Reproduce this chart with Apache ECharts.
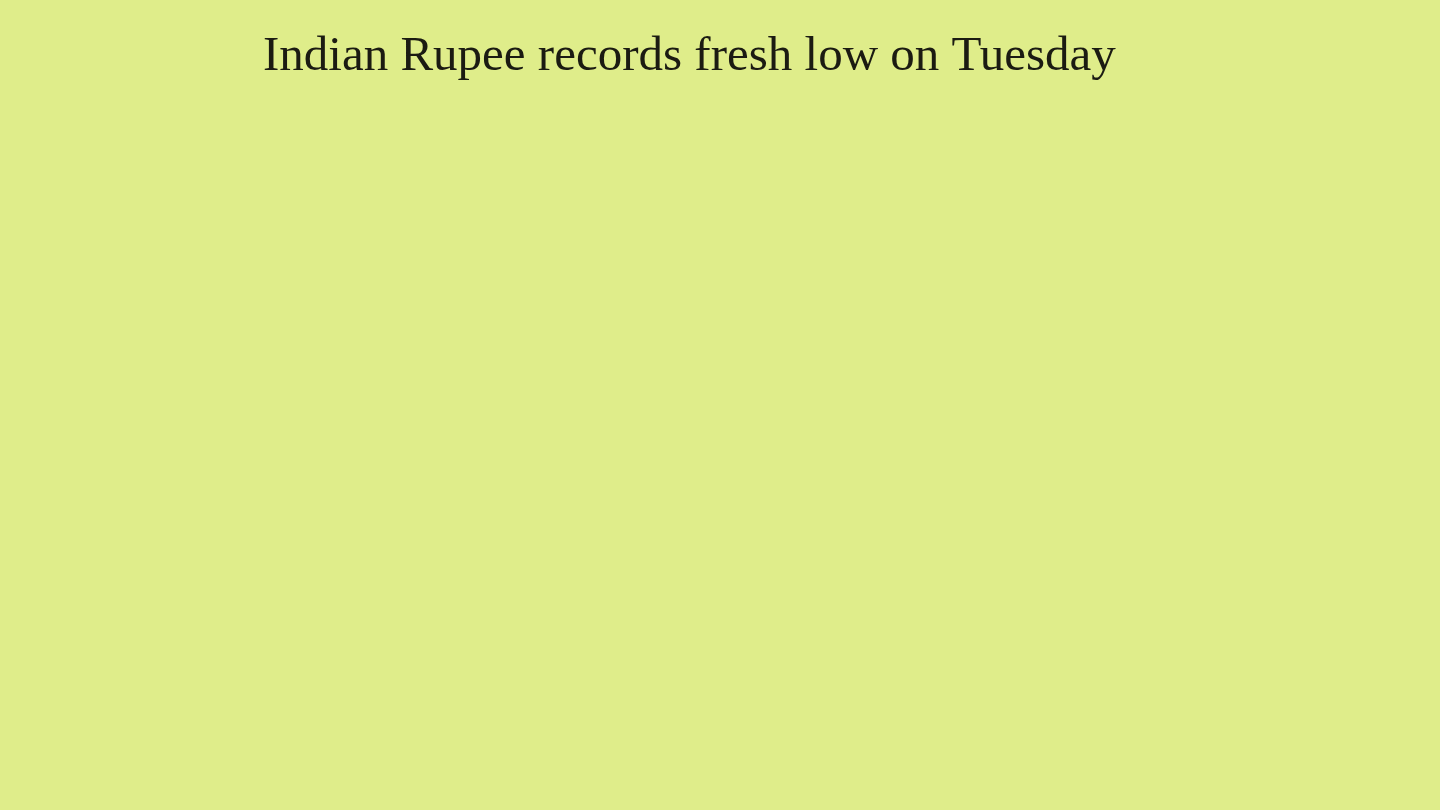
<!DOCTYPE html>
<html>
<head>
<meta charset="utf-8">
<script src="https://cdn.jsdelivr.net/npm/echarts@6/dist/echarts.min.js"></script>
<style>
html,body{margin:0;padding:0;background:#dfed8a;}
#chart{width:1440px;height:810px;}
</style>
</head>
<body>
<div id="chart"></div>
<script>
// The reference frame shows only the title; no data marks are drawn yet.
const categories = [];
const rupeeValues = [];
const titleText = 'Indian Rupee records fresh low on Tuesday';

const chart = echarts.init(document.getElementById('chart'));
chart.setOption({
  backgroundColor: '#dfed8a',
  animation: false,
  title: {
    text: titleText,
    left: 258,
    top: 28,
    textStyle: {
      fontFamily: '"Liberation Serif", "DejaVu Serif", serif',
      fontWeight: 'normal',
      fontSize: 49,
      color: '#1b1b12'
    }
  },
  grid: { left: 120, right: 120, top: 140, bottom: 80 },
  xAxis: { type: 'category', data: categories, show: false },
  yAxis: { type: 'value', show: false },
  series: [{ type: 'line', data: rupeeValues, showSymbol: false }]
});
</script>
</body>
</html>
